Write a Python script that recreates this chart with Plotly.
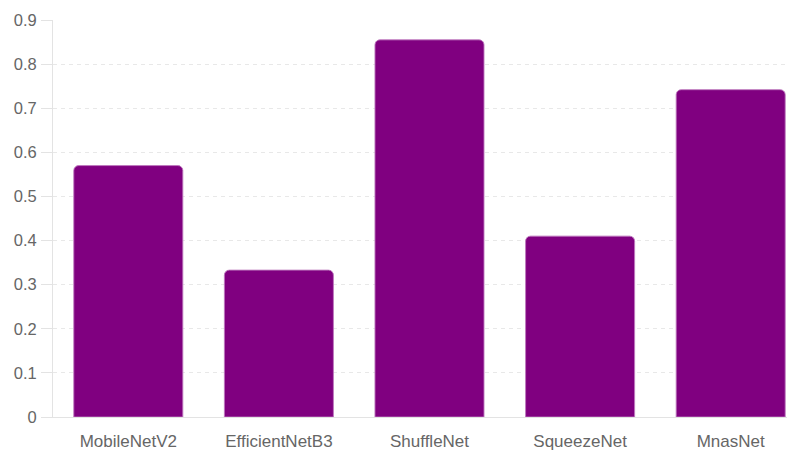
import plotly.graph_objects as go

categories = ["MobileNetV2", "EfficientNetB3", "ShuffleNet", "SqueezeNet", "MnasNet"]
values = [0.57, 0.333, 0.855, 0.41, 0.742]
y_ticks = [0, 0.1, 0.2, 0.3, 0.4, 0.5, 0.6, 0.7, 0.8, 0.9]

fig = go.Figure(go.Bar(
    x=categories,
    y=values,
    marker=dict(color="#800080", line=dict(color="rgba(190,120,190,0.9)", width=1)),
    hoverinfo="x+y",
))

# page body has an 8px default margin; compensate so the plot lands where the reference has it
fig.update_layout(
    width=787, height=443,
    margin=dict(l=45, r=0, t=12, b=34),
    plot_bgcolor="white", paper_bgcolor="white",
    bargap=0.276,
    barcornerradius=5,
    showlegend=False,
    font=dict(family="Liberation Sans, Arial, sans-serif", size=16, color="#666666"),
)
fig.update_xaxes(
    range=[-0.5, 4.427], automargin=False,
    showline=True, linecolor="#e3e3e3", linewidth=1,
    showgrid=False, ticks="", ticklabelstandoff=9,
    tickfont=dict(size=17, color="#666666"),
)
fig.update_yaxes(
    range=[0, 0.9], automargin=False,
    tickvals=y_ticks, ticktext=[("0" if v == 0 else f"{v:g}") for v in y_ticks],
    showline=True, linecolor="#e3e3e3", linewidth=1,
    showgrid=True, gridcolor="#e8e8e8", griddash="4px,4px", gridwidth=1,
    zeroline=False,
    ticks="outside", ticklen=11, tickcolor="#e3e3e3", tickwidth=1,
    ticklabelstandoff=1,
    tickfont=dict(size=16.5, color="#666666"),
)

fig.write_html("out.html")
